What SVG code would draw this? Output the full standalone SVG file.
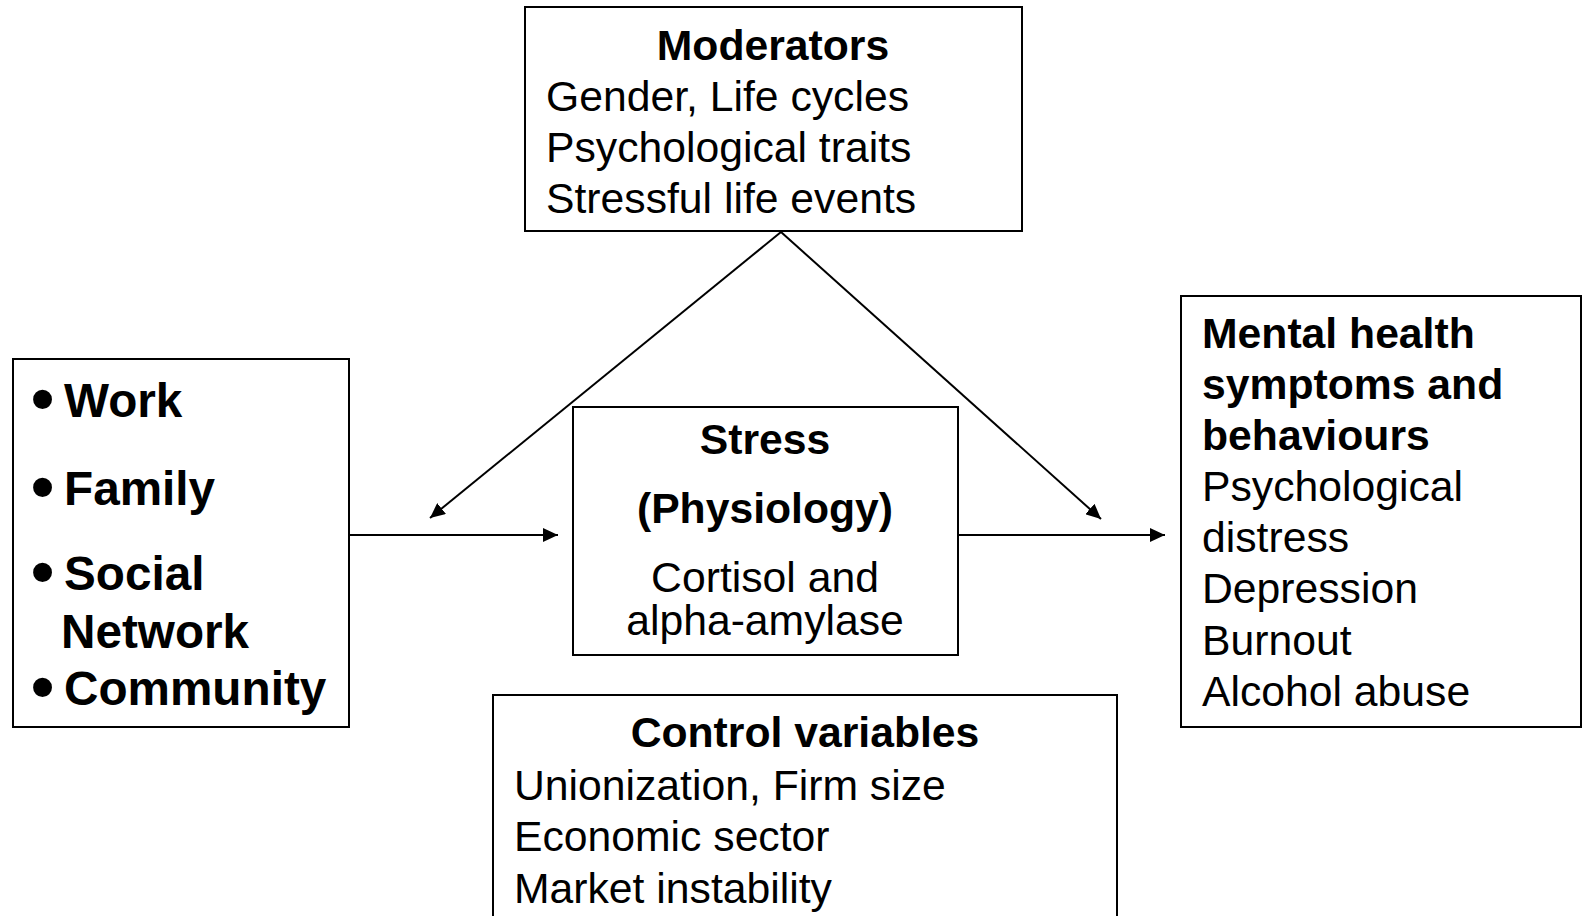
<svg xmlns="http://www.w3.org/2000/svg" width="1583" height="916" viewBox="0 0 1583 916">
<style>
  .box { fill: #ffffff; stroke: #000000; stroke-width: 2; }
  .t { font-family: "Liberation Sans", Arial, sans-serif; font-size: 42.7px; fill: #000000; }
  .b { font-weight: bold; }
  .c { text-anchor: middle; }
  .lb { font-family: "Liberation Sans", Arial, sans-serif; font-size: 47.7px; font-weight: bold; fill: #000000; }
  .bul { font-family: "Liberation Sans", Arial, sans-serif; font-size: 66px; font-weight: bold; fill: #000000; }
  .conn { stroke: #000000; stroke-width: 2; fill: none; marker-end: url(#arrow); }
</style>
<defs>
  <marker id="arrow" markerUnits="userSpaceOnUse" markerWidth="16" markerHeight="14" refX="15" refY="7" orient="auto">
    <path d="M0,0 L15,7 L0,14 z" fill="#000000"/>
  </marker>
</defs>
<rect width="1583" height="916" fill="#ffffff"/>

<g id="connectors">
  <line class="conn" x1="349" y1="535" x2="558" y2="535"/>
  <line class="conn" x1="957" y1="535" x2="1165" y2="535"/>
  <line class="conn" x1="781" y1="232" x2="430" y2="518"/>
  <line class="conn" x1="781" y1="232" x2="1101" y2="519"/>
</g>

<g id="moderators">
  <rect class="box" x="525" y="7" width="497" height="224"/>
  <text class="t b c" x="773" y="60">Moderators</text>
  <text class="t" x="546" y="111">Gender, Life cycles</text>
  <text class="t" x="546" y="162">Psychological traits</text>
  <text class="t" x="546" y="213">Stressful life events</text>
</g>

<g id="sources">
  <rect class="box" x="13" y="359" width="336" height="368"/>
  <text class="bul" x="31" y="421">•</text>
  <text class="lb" x="64" y="417">Work</text>
  <text class="bul" x="31" y="509">•</text>
  <text class="lb" x="64" y="505">Family</text>
  <text class="bul" x="31" y="594">•</text>
  <text class="lb" x="64" y="590">Social</text>
  <text class="lb" x="61" y="648">Network</text>
  <text class="bul" x="31" y="709">•</text>
  <text class="lb" x="64" y="705">Community</text>
</g>

<g id="stress">
  <rect class="box" x="573" y="407" width="385" height="248"/>
  <text class="t b c" x="765" y="454">Stress</text>
  <text class="t b c" x="765" y="523">(Physiology)</text>
  <text class="t c" x="765" y="592">Cortisol and</text>
  <text class="t c" x="765" y="635">alpha-amylase</text>
</g>

<g id="control">
  <rect class="box" x="493" y="695" width="624" height="240"/>
  <text class="t b c" x="805" y="747">Control variables</text>
  <text class="t" x="514" y="800">Unionization, Firm size</text>
  <text class="t" x="514" y="851">Economic sector</text>
  <text class="t" x="514" y="903">Market instability</text>
</g>

<g id="outcomes">
  <rect class="box" x="1181" y="296" width="400" height="431"/>
  <text class="t b" x="1202" y="348">Mental health</text>
  <text class="t b" x="1202" y="399">symptoms and</text>
  <text class="t b" x="1202" y="450">behaviours</text>
  <text class="t" x="1202" y="501">Psychological</text>
  <text class="t" x="1202" y="552">distress</text>
  <text class="t" x="1202" y="603">Depression</text>
  <text class="t" x="1202" y="655">Burnout</text>
  <text class="t" x="1202" y="706">Alcohol abuse</text>
</g>
</svg>
